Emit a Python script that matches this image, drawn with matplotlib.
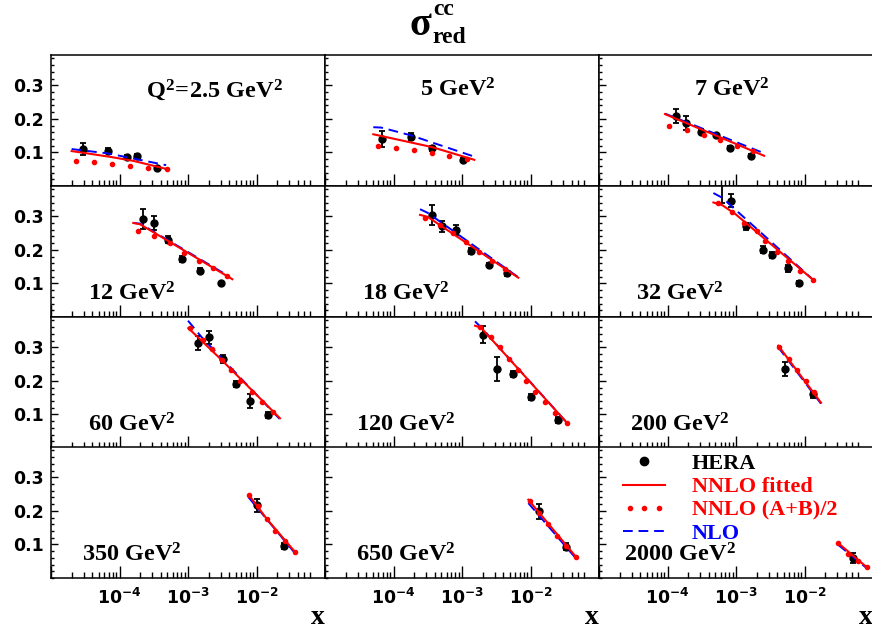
import numpy as np
import matplotlib
matplotlib.use("Agg")
import matplotlib.pyplot as plt
from matplotlib.ticker import FixedLocator, MultipleLocator, NullFormatter
from matplotlib.lines import Line2D
from matplotlib.legend_handler import HandlerLine2D

plt.rcParams['mathtext.fontset'] = 'custom'
plt.rcParams['mathtext.rm'] = 'Liberation Serif:bold'
plt.rcParams['mathtext.bf'] = 'Liberation Serif:bold'
plt.rcParams['mathtext.it'] = 'Liberation Serif:bold:italic'
plt.rcParams['mathtext.sf'] = 'DejaVu Sans:bold'

# Q^2 bins (GeV^2), one panel each
q2_labels = [r'Q^{2}\!=\!2.5', '5', '7', '12', '18', '32', '60', '120', '200', '350', '650', '2000']

# HERA charm reduced cross section
hera_x = [[2.95e-5, 6.87e-5, 1.27e-4, 1.78e-4, 3.49e-4],
          [6.87e-5, 1.78e-4, 3.61e-4, 1.02e-3],
          [1.33e-4, 1.86e-4, 3.09e-4, 5.1e-4, 8.2e-4, 1.66e-3],
          [2.23e-4, 3.24e-4, 5.06e-4, 8.1e-4, 1.50e-3, 3.0e-3],
          [3.61e-4, 5.06e-4, 8.1e-4, 1.35e-3, 2.51e-3, 4.57e-3],
          [6.18e-4, 8.37e-4, 1.40e-3, 2.45e-3, 3.32e-3, 5.69e-3, 8.3e-3],
          [1.41e-3, 2.05e-3, 3.27e-3, 5.0e-3, 8.0e-3, 1.49e-2],
          [2.0e-3, 3.27e-3, 5.5e-3, 1.0e-2, 2.51e-2],
          [5.19e-3, 1.35e-2],
          [1.0e-2, 2.52e-2],
          [1.33e-2, 3.26e-2],
          [5.16e-2]]
hera_y = [[0.110, 0.105, 0.0875, 0.0895, 0.055],
          [0.140, 0.147, 0.112, 0.078],
          [0.209, 0.187, 0.162, 0.152, 0.114, 0.090],
          [0.292, 0.280, 0.230, 0.173, 0.138, 0.100],
          [0.304, 0.270, 0.258, 0.197, 0.155, 0.130],
          [0.420, 0.346, 0.270, 0.200, 0.185, 0.145, 0.100],
          [0.3125, 0.329, 0.265, 0.190, 0.140, 0.0985],
          [0.337, 0.235, 0.220, 0.152, 0.0835],
          [0.235, 0.160],
          [0.216, 0.0955],
          [0.198, 0.0935],
          [0.0587]]
hera_err = [[0.017, 0.008, 0.006, 0.005, 0.004],
            [0.023, 0.010, 0.008, 0.005],
            [0.020, 0.020, 0.007, 0.006, 0.006, 0.004],
            [0.030, 0.020, 0.010, 0.008, 0.007, 0.004],
            [0.030, 0.017, 0.015, 0.008, 0.006, 0.008],
            [0.080, 0.020, 0.010, 0.010, 0.010, 0.010, 0.007],
            [0.022, 0.018, 0.012, 0.008, 0.020, 0.008],
            [0.025, 0.037, 0.010, 0.008, 0.008],
            [0.020, 0.010],
            [0.020, 0.010],
            [0.023, 0.010],
            [0.015]]

# NNLO fitted (solid red)
fit_x = [[2.0e-5, 7.2e-5, 1.58e-4, 4.8e-4],
         [5.07e-5, 3.63e-4, 1.51e-3],
         [9.2e-5, 2.57e-3],
         [1.59e-4, 2.0e-4, 4.44e-3],
         [2.44e-4, 3.16e-4, 6.64e-3],
         [4.68e-4, 6.3e-4, 1.0e-3, 1.35e-2],
         [1.01e-3, 3.1e-3, 2.2e-2],
         [1.55e-3, 1.9e-3, 3.56e-2],
         [4.14e-3, 1.74e-2],
         [7.85e-3, 1.41e-2, 3.65e-2],
         [9.3e-3, 4.58e-2],
         [3.12e-2, 8.13e-2]]
fit_y = [[0.104, 0.087, 0.075, 0.051],
         [0.154, 0.116, 0.078],
         [0.214, 0.090],
         [0.280, 0.276, 0.1125],
         [0.304, 0.298, 0.117],
         [0.341, 0.333, 0.305, 0.110],
         [0.357, 0.262, 0.0885],
         [0.364, 0.358, 0.0706],
         [0.3045, 0.135],
         [0.2457, 0.176, 0.0776],
         [0.233, 0.0637],
         [0.1035, 0.032]]

# NNLO (A+B)/2 (red dots)
avg_x = [[2.32e-5, 4.29e-5, 7.85e-5, 1.42e-4, 2.63e-4, 4.9e-4],
         [5.9e-5, 1.09e-4, 2.0e-4, 3.63e-4, 6.5e-4, 1.17e-3],
         [1.06e-4, 1.91e-4, 3.41e-4, 5.85e-4, 1.02e-3, 1.78e-3],
         [1.85e-4, 3.19e-4, 5.5e-4, 8.6e-4, 1.43e-3, 2.29e-3, 3.72e-3],
         [2.88e-4, 4.79e-4, 7.33e-4, 1.135e-3, 1.78e-3, 2.75e-3, 4.27e-3],
         [5.41e-4, 8.65e-4, 1.32e-3, 2.0e-3, 2.65e-3, 3.93e-3, 5.79e-3, 8.59e-3, 1.32e-2],
         [1.07e-3, 1.64e-3, 2.22e-3, 3.1e-3, 4.2e-3, 5.75e-3, 8.5e-3, 1.19e-2, 1.72e-2],
         [1.82e-3, 2.67e-3, 3.59e-3, 4.79e-3, 6.46e-3, 8.59e-3, 1.16e-2, 1.63e-2, 2.28e-2, 3.37e-2],
         [4.25e-3, 5.94e-3, 7.85e-3, 1.05e-2, 1.38e-2],
         [7.85e-3, 1.04e-2, 1.41e-2, 1.86e-2, 2.61e-2, 3.65e-2],
         [9.77e-3, 1.32e-2, 1.79e-2, 2.4e-2, 3.26e-2, 4.58e-2],
         [3.12e-2, 4.37e-2, 6.1e-2, 8.13e-2]]
avg_y = [[0.0755, 0.0707, 0.065, 0.060, 0.055, 0.050],
         [0.119, 0.114, 0.106, 0.0975, 0.090, 0.080],
         [0.180, 0.167, 0.152, 0.137, 0.120, 0.104],
         [0.257, 0.240, 0.220, 0.192, 0.167, 0.145, 0.123],
         [0.296, 0.275, 0.250, 0.222, 0.195, 0.168, 0.142],
         [0.339, 0.3125, 0.280, 0.255, 0.225, 0.195, 0.167, 0.138, 0.110],
         [0.357, 0.321, 0.295, 0.262, 0.232, 0.200, 0.168, 0.138, 0.108],
         [0.361, 0.331, 0.300, 0.265, 0.232, 0.200, 0.167, 0.137, 0.105, 0.0737],
         [0.302, 0.265, 0.232, 0.198, 0.167],
         [0.2457, 0.213, 0.175, 0.141, 0.111, 0.0776],
         [0.2298, 0.195, 0.161, 0.126, 0.0965, 0.0637],
         [0.1035, 0.0716, 0.0517, 0.032]]

# NLO (dashed blue)
nlo_x = [[2.0e-5, 6.8e-5, 4.8e-4],
         [5.07e-5, 6.6e-5, 1.78e-4, 1.51e-3],
         [9.2e-5, 2.57e-3],
         [1.59e-4, 2.0e-4, 3.67e-3],
         [2.44e-4, 3.16e-4, 6.46e-3],
         [4.68e-4, 6.3e-4, 1.26e-2],
         [1.0e-3, 1.58e-3, 2.2e-2],
         [1.55e-3, 1.99e-3, 3.56e-2],
         [4.14e-3, 1.74e-2],
         [7.6e-3, 3.65e-2],
         [9.3e-3, 4.58e-2],
         [3.12e-2, 8.13e-2]]
nlo_y = [[0.110, 0.097, 0.062],
         [0.175, 0.174, 0.151, 0.0875],
         [0.2155, 0.0975],
         [0.280, 0.278, 0.125],
         [0.321, 0.310, 0.120],
         [0.369, 0.355, 0.1155],
         [0.379, 0.330, 0.0855],
         [0.377, 0.355, 0.0706],
         [0.300, 0.132],
         [0.241, 0.0737],
         [0.223, 0.059],
         [0.0985, 0.029]]

xtick_labels = ['', r'$\mathsf{10^{-4}}$', r'$\mathsf{10^{-3}}$', r'$\mathsf{10^{-2}}$', '']
ytick_vals = [0.1, 0.2, 0.3]
ytick_labels = ['0.1', '0.2', '0.3']
legend_labels = ['HERA', 'NNLO fitted', 'NNLO (A+B)/2', 'NLO']
legend_colors = ['black', 'red', 'red', 'blue']

SERIF = 'Liberation Serif'
NLO_DASH = (0, (5, 3))


class HandlerMarkerRight(HandlerLine2D):
    # put the single marker at the right end of the handle
    def get_xdata(self, legend, xdescent, ydescent, width, height, fontsize):
        xdata, _ = super().get_xdata(legend, xdescent, ydescent, width, height, fontsize)
        return xdata, np.array([width - xdescent])


W, H = 872, 632
col_left = [51, 325, 599]
row_top = [55, 186, 317, 447]
pw, ph = 274, 131

fig = plt.figure(figsize=(W / 100, H / 100), dpi=100)

for i, lab in enumerate(q2_labels):
    r, c = divmod(i, 3)
    ax = fig.add_axes([col_left[c] / W, 1 - (row_top[r] + ph) / H, pw / W, ph / H])
    ax.set_xscale('log')

    ax.errorbar(hera_x[i], hera_y[i], yerr=hera_err[i], fmt='o', color='black', ms=5,
                elinewidth=1.3, capsize=2.5, capthick=1.3, zorder=3)
    ax.plot(nlo_x[i], nlo_y[i], color='blue', ls=NLO_DASH, lw=1.4, zorder=4)
    ax.plot(fit_x[i], fit_y[i], color='red', lw=1.5, zorder=5)
    ax.plot(avg_x[i], avg_y[i], ls='none', marker='o', color='red', ms=3, zorder=6)

    ax.set_xlim(1e-5, 1e-1)
    ax.set_ylim(0, 0.39)

    minors = [k * 10.0 ** e for e in range(-5, -1) for k in range(2, 10) if not (e == -2 and k > 6)]
    ax.xaxis.set_major_locator(FixedLocator(10.0 ** np.arange(-5, 0)))
    ax.xaxis.set_minor_locator(FixedLocator(minors))
    ax.xaxis.set_minor_formatter(NullFormatter())
    ax.set_yticks(ytick_vals)
    ax.yaxis.set_minor_locator(MultipleLocator(0.02))

    ax.tick_params(axis='x', which='major', direction='in', length=9, width=1, top=False, pad=7)
    ax.tick_params(axis='x', which='minor', direction='in', length=4.5, width=1, top=False)
    ax.tick_params(axis='y', which='major', direction='in', length=5, width=1, right=False, pad=5)
    ax.tick_params(axis='y', which='minor', direction='in', length=2.5, width=1, right=False)
    for sp in ax.spines.values():
        sp.set_linewidth(1.1)

    if r == 3:
        ax.set_xticks(10.0 ** np.arange(-5, 0), labels=xtick_labels, fontsize=12.5)
        ax.text(1.0, -40 / ph, 'x', transform=ax.transAxes, ha='right', va='center',
                family=SERIF, weight='bold', fontsize=20)
    else:
        ax.tick_params(axis='x', labelbottom=False)

    if c == 0:
        ax.set_yticklabels(ytick_labels, family='DejaVu Sans', weight='bold', fontsize=12.5)
    else:
        ax.tick_params(axis='y', labelleft=False)

    text = r'$\mathbf{' + lab + r'\ GeV^{2}}$'
    if r == 0:
        ax.text(0.345, 0.68, text, transform=ax.transAxes, ha='left', va='baseline', fontsize=17.5)
    else:
        ax.text(0.295, 0.125, text, transform=ax.transAxes, ha='center', va='baseline', fontsize=17.5)

    if i == len(q2_labels) - 1:
        handles = [Line2D([], [], ls='none', marker='o', color='black', ms=6),
                   Line2D([], [], color='red', lw=1.5),
                   Line2D([], [], ls='none', marker='o', color='red', ms=3),
                   Line2D([], [], color='blue', ls=NLO_DASH, lw=1.4)]
        leg = ax.legend(handles, legend_labels, loc='upper left', bbox_to_anchor=(0.088, 0.95),
                        frameon=False, borderpad=0, borderaxespad=0, labelspacing=0.12,
                        handlelength=1.9, handletextpad=1.2,
                        prop={'family': SERIF, 'weight': 'bold', 'size': 16},
                        handler_map={handles[0]: HandlerMarkerRight(numpoints=1),
                                     handles[2]: HandlerLine2D(numpoints=3)})
        for t, col in zip(leg.get_texts(), legend_colors):
            t.set_color(col)

# title sigma_red^cc
fig.text(431 / W, 1 - 35 / H, '\u03c3', ha='right', va='baseline', family=SERIF, weight='bold', fontsize=29)
fig.text(433 / W, 1 - 15 / H, 'cc', ha='left', va='baseline', family=SERIF, weight='bold', fontsize=17)
fig.text(432 / W, 1 - 43 / H, 'red', ha='left', va='baseline', family=SERIF, weight='bold', fontsize=17)

fig.savefig('out.png', dpi=100)
